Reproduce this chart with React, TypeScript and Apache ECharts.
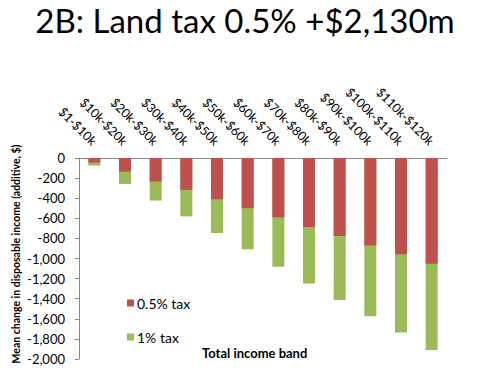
import React, { useEffect, useRef } from "react";
import * as echarts from "echarts";

const categories = [
  "$1-$10k", "$10k-$20k", "$20k-$30k", "$30k-$40k", "$40k-$50k", "$50k-$60k",
  "$60k-$70k", "$70k-$80k", "$80k-$90k", "$90k-$100k", "$100k-$110k", "$110k-$120k",
];
const tax05 = [-45, -136, -235, -317, -410, -499, -591, -687, -776, -871, -957, -1053];
const tax1 = [-75, -258, -423, -581, -746, -908, -1083, -1248, -1413, -1574, -1736, -1911];
const yTicks = { min: -2000, max: 0, interval: 200 };

const FONT = "Lato, 'Open Sans', sans-serif";

export default function App() {
  const ref = useRef<HTMLDivElement>(null);
  useEffect(() => {
    if (!ref.current) return;
    const chart = echarts.init(ref.current, undefined, { renderer: "svg" });
    chart.setOption({
      animation: false,
      textStyle: { fontFamily: FONT },
      title: {
        text: "2B: Land tax 0.5% +$2,130m",
        left: "center",
        top: -2,
        textStyle: { fontFamily: FONT, fontSize: 33, fontWeight: "normal", color: "#000" },
      },
      legend: {
        orient: "vertical",
        left: 122,
        top: 291,
        itemWidth: 7,
        itemHeight: 7,
        itemGap: 20,
        icon: "rect",
        data: ["0.5% tax", "1% tax"],
        textStyle: { fontFamily: FONT, fontSize: 14, color: "#000", padding: [0, 0, 0, -2] },
      },
      grid: { left: 79, right: 43, top: 158, bottom: 19 },
      xAxis: {
        type: "category",
        position: "top",
        data: categories,
        axisLine: { lineStyle: { color: "#888" } },
        axisTick: { inside: true, length: 4, lineStyle: { color: "#888" } },
        axisLabel: {
          rotate: -45,
          interval: 0,
          margin: 15,
          fontFamily: FONT,
          fontSize: 12.5,
          color: "#000",
        },
      },
      yAxis: {
        type: "value",
        min: yTicks.min,
        max: yTicks.max,
        interval: yTicks.interval,
        splitLine: { show: false },
        axisLine: { show: true, lineStyle: { color: "#888" } },
        axisTick: { show: true, length: 4, lineStyle: { color: "#888" } },
        axisLabel: {
          margin: 14,
          fontFamily: FONT,
          fontSize: 13,
          color: "#000",
          formatter: (v: number) => v.toLocaleString("en-US"),
        },
      },
      graphic: [
        {
          type: "text",
          left: 202,
          top: 346,
          style: { text: "Total income band", fontFamily: FONT, fontSize: 13, fontWeight: "bold", fill: "#000" },
        },
        {
          type: "text",
          x: 16,
          y: 254,
          rotation: Math.PI / 2,
          style: {
            text: "Mean change in disposable income (additive, $)",
            fontFamily: FONT,
            fontSize: 10.5,
            fontWeight: "bold",
            fill: "#000",
            align: "center",
            verticalAlign: "middle",
          },
        },
      ],
      series: [
        {
          name: "1% tax",
          type: "bar",
          data: tax1,
          barWidth: 12,
          barGap: "-100%",
          itemStyle: { color: "#9BBB59" },
        },
        {
          name: "0.5% tax",
          type: "bar",
          data: tax05,
          barWidth: 12,
          barGap: "-100%",
          itemStyle: { color: "#C0504D" },
        },
      ],
    });
    return () => chart.dispose();
  }, []);
  return <div ref={ref} style={{ width: 490, height: 378, margin: -8 }} />;
}
